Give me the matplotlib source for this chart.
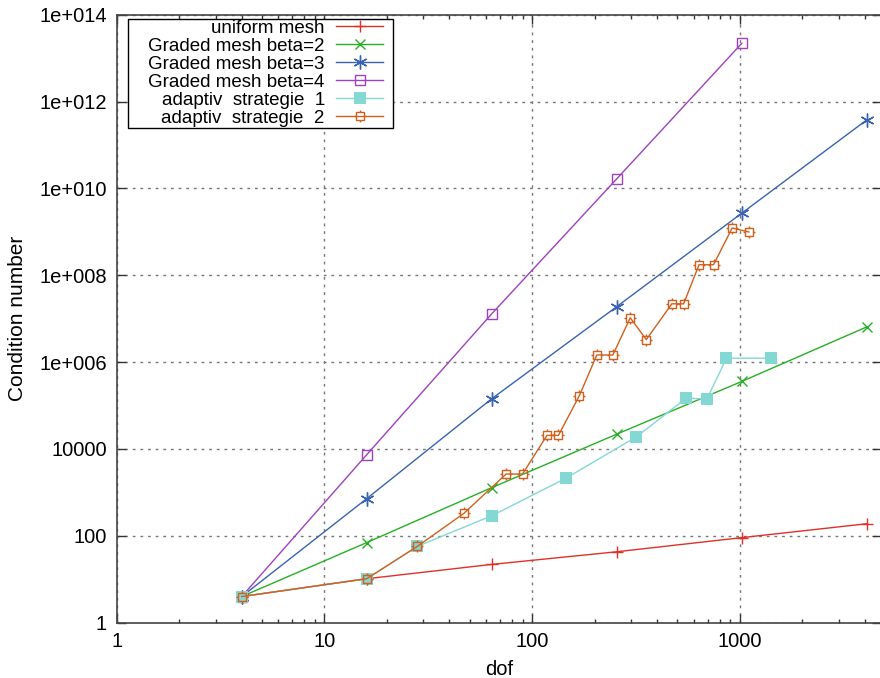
import numpy as np
import matplotlib
matplotlib.use("Agg")
import matplotlib.pyplot as plt
from matplotlib.path import Path
from matplotlib.patches import Rectangle
from matplotlib.ticker import LogLocator, FuncFormatter, NullFormatter

plt.rcParams['font.family'] = ['Liberation Sans', 'DejaVu Sans']

# data
dof_mesh = [4, 16, 64, 256, 1024, 4096]
cond_uniform = [4, 10.3, 22, 43, 91, 190]
cond_beta2 = [4, 70, 1290, 22000, 360000, 6.5e6]
cond_beta3 = [4, 720, 1.44e5, 1.9e7, 2.7e9, 3.8e11]

dof_beta4 = [4, 16, 64, 256, 1024]
cond_beta4 = [4, 7400, 1.3e7, 1.67e10, 2.2e13]

dof_ad1 = [4, 16, 28, 64, 146, 318, 553, 695, 863, 1422]
cond_ad1 = [4, 10.3, 57, 290, 2140, 19000, 149000, 141000, 1.23e6, 1.23e6]

dof_ad2 = [4, 16, 28, 47, 75, 90, 118, 134, 169, 205, 245, 297, 355, 471, 537,
           637, 748, 920, 1107]
cond_ad2 = [4, 10.3, 57, 330, 2650, 2650, 20600, 20600, 1.69e5, 1.46e6, 1.46e6,
            1.05e7, 3.3e6, 2.2e7, 2.2e7, 1.75e8, 1.75e8, 1.23e9, 9.9e8]

labels = ["uniform mesh", "Graded mesh beta=2", "Graded mesh beta=3",
          "Graded mesh beta=4", "adaptiv  strategie  1", "adaptiv  strategie  2"]

# gnuplot-ish square with a cross through it
verts = [(-1, -1), (1, -1), (1, 1), (-1, 1), (-1, -1),
         (0, 1), (0, 1.5), (0, -1), (0, -1.5), (1, 0), (1.5, 0), (-1, 0), (-1.5, 0)]
codes = [Path.MOVETO, Path.LINETO, Path.LINETO, Path.LINETO, Path.CLOSEPOLY] + \
        [Path.MOVETO, Path.LINETO] * 4
sqcross = Path(verts, codes)

fig = plt.figure(figsize=(8.8, 6.78), dpi=100)
ax = fig.add_axes([116.7 / 880, 1 - 622.7 / 678, 764.5 / 880, 608 / 678])

lw = 1.0
ax.plot(dof_mesh, cond_uniform, color='#e0302a', lw=lw, marker='+', ms=8, mew=1.0, label=labels[0])
ax.plot(dof_mesh, cond_beta2, color='#26b026', lw=lw, marker='x', ms=7, mew=1.0, label=labels[1])
ax.plot(dof_mesh, cond_beta3, color='#3a62b2', lw=lw, marker=(6, 2, 0), ms=10, mew=1.0, label=labels[2])
ax.plot(dof_beta4, cond_beta4, color='#a040c0', lw=lw, marker='s', ms=7, mew=1.0,
        fillstyle='none', label=labels[3])
ax.plot(dof_ad1, cond_ad1, color='#84d8d4', lw=lw, marker='s', ms=8.5, mew=0, label=labels[4])
ax.plot(dof_ad2, cond_ad2, color='#d0601e', lw=lw, marker=sqcross, ms=8.5, mew=1.0,
        fillstyle='none', label=labels[5])

ax.set_xscale('log')
ax.set_yscale('log')
ax.set_xlim(1, 4800)
ax.set_ylim(1, 1e14)

ax.xaxis.set_major_locator(LogLocator(base=10))
ax.xaxis.set_minor_locator(LogLocator(base=10, subs=np.arange(2, 10)))
ax.xaxis.set_major_formatter(FuncFormatter(lambda v, p: "%d" % round(v)))
ax.xaxis.set_minor_formatter(NullFormatter())

def yfmt(v, p):
    e = int(round(np.log10(v)))
    if e <= 4:
        return "%d" % round(v)
    return "1e+%03d" % e

ax.yaxis.set_major_locator(LogLocator(base=100))
ax.yaxis.set_minor_locator(LogLocator(base=10, subs=(1.0,)))
ax.yaxis.set_major_formatter(FuncFormatter(yfmt))
ax.yaxis.set_minor_formatter(NullFormatter())

ax.tick_params(which='both', direction='in', top=True, right=True, color='#333333')
ax.tick_params(which='major', length=6.5, width=1.0, labelsize=14.5, pad=7)
ax.tick_params(which='minor', length=3, width=1.0)
for s in ax.spines.values():
    s.set_color('#444444')
    s.set_linewidth(1.2)

ax.grid(True, which='major', color='#777777', linestyle=(0, (2, 3.5)), lw=1.0)

ax.set_xlabel("dof", fontsize=14.5, labelpad=6)
ax.set_ylabel("Condition number", fontsize=15, labelpad=9)

# legend: right aligned rows, gnuplot-style box drawn around it
leg = ax.legend(loc='upper right', bbox_to_anchor=(0.3483, 0.992), borderaxespad=0,
                markerfirst=False, fontsize=13.5, labelspacing=0.05, borderpad=0,
                handlelength=2.5, handletextpad=0.6, frameon=False)
leg.set_zorder(6)
fig.canvas.draw()
bb = leg.get_window_extent()
x0, y0 = fig.transFigure.inverted().transform((bb.x0 - 20, bb.y0 - 1))
x1, y1 = fig.transFigure.inverted().transform((bb.x1 + 10, bb.y1 + 1))
ax.add_patch(Rectangle((x0, y0), x1 - x0, y1 - y0, transform=fig.transFigure,
                       facecolor='white', edgecolor='black', lw=1.0, zorder=5.5))

fig.savefig("out.png", dpi=100)
